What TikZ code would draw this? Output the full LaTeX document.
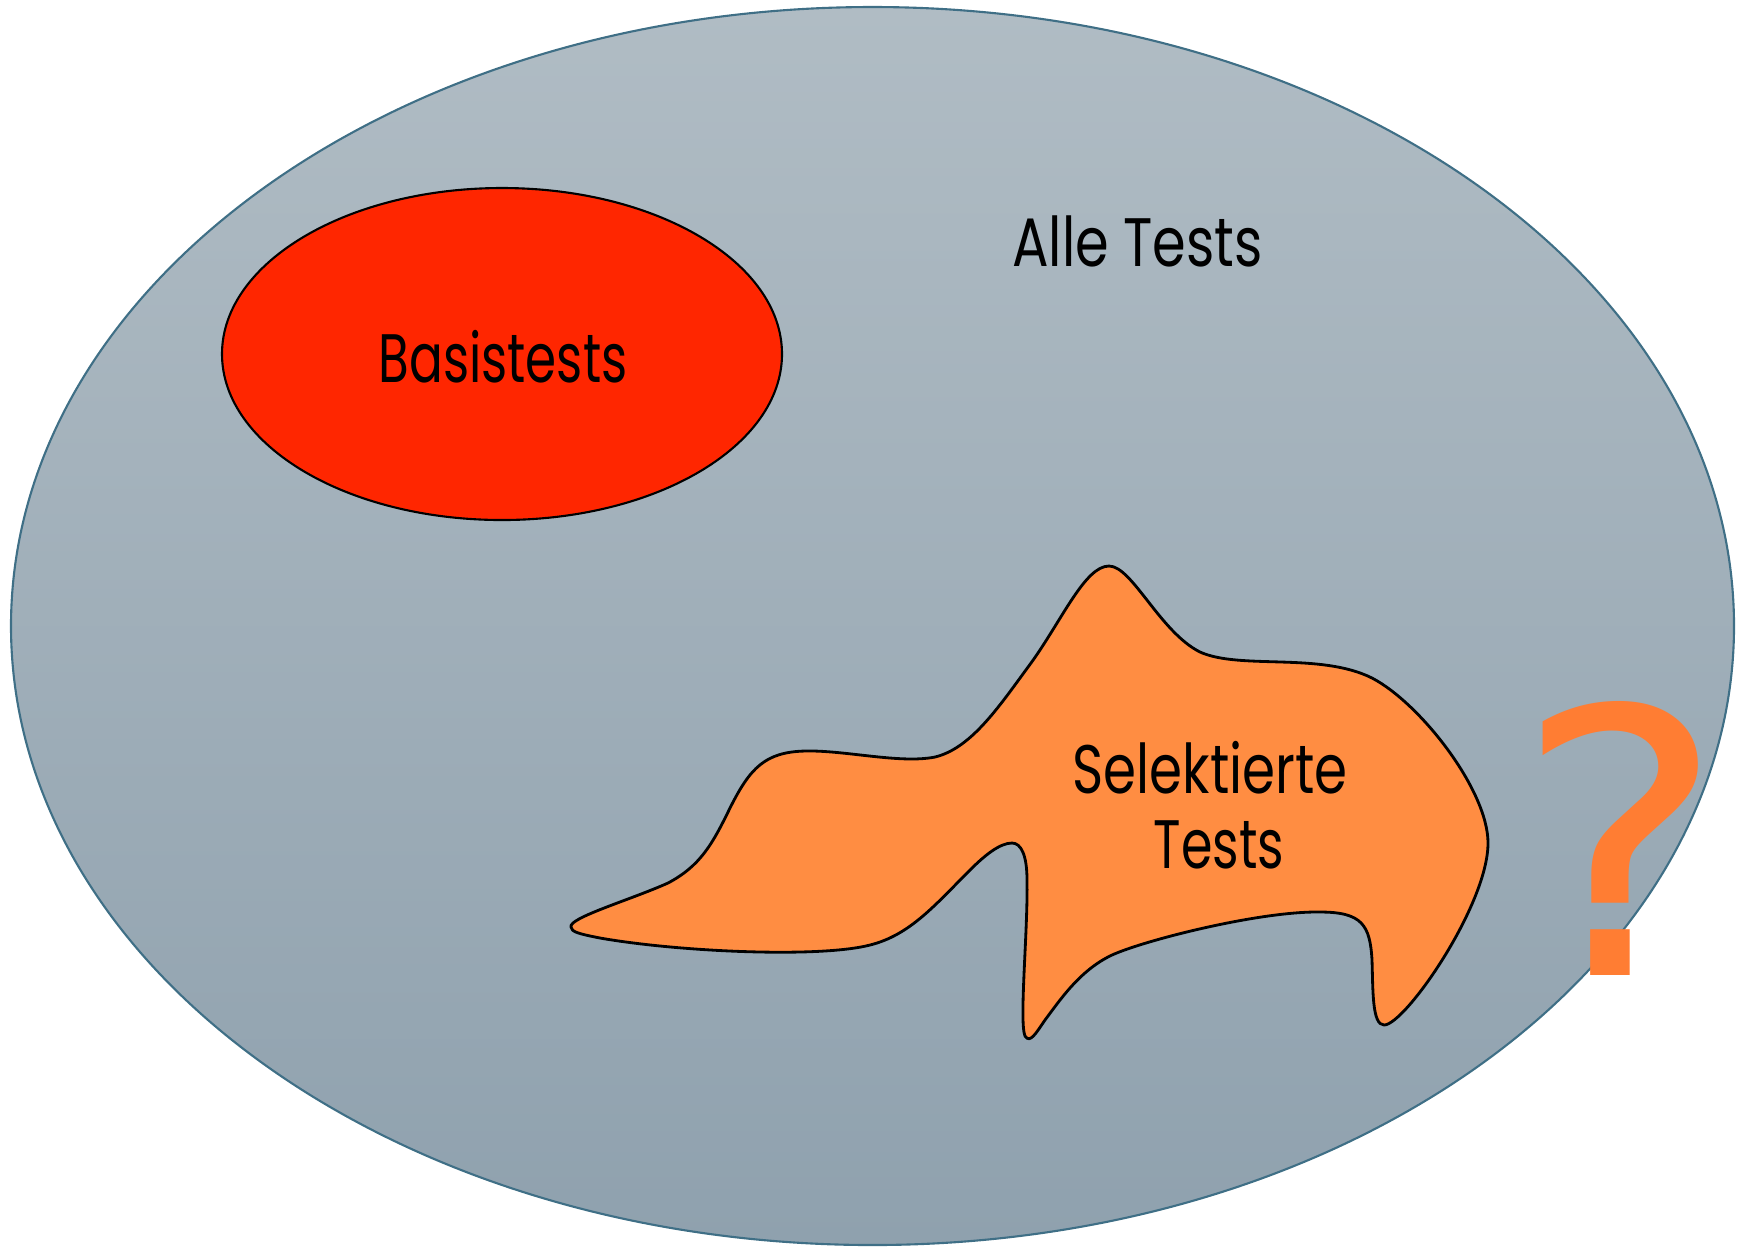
\documentclass[tikz,border=0pt]{standalone}
\usepackage{fontspec}
\setmainfont{Poppins}
\newfontfamily\qfont{DejaVu Sans}
\definecolor{topc}{HTML}{B0BCC4}
\definecolor{botc}{HTML}{8FA1AE}
\definecolor{edgec}{HTML}{3F6F86}
\definecolor{redc}{HTML}{FF2600}
\definecolor{orc}{HTML}{FF8D42}
\definecolor{qc}{HTML}{FF7D33}
\tikzset{
  lbl/.style={font=\fontsize{19.5}{19.5}\selectfont, text=black, inner sep=0pt, anchor=base},
}
\begin{document}
\begin{tikzpicture}[x=0.01cm,y=-0.01cm]
\useasboundingbox (0,0) rectangle (1752,1247);
\shade[top color=topc,bottom color=botc] (872.5,626) ellipse [x radius=861.5, y radius=619];
\draw[edgec, line width=0.6pt] (872.5,626) ellipse [x radius=861.5, y radius=619];
\draw[black, fill=redc, line width=0.6pt] (502,354) ellipse [x radius=280, y radius=166];
\draw[black, fill=orc, line width=0.8pt]
  (571,927) .. controls (568,918) and (630,900) .. (668,883)
  .. controls (700,866) and (712,845) .. (730,808)
  .. controls (750,768) and (765,752) .. (805,751)
  .. controls (845,750) and (900,764) .. (935,757)
  .. controls (972,748) and (1000,705) .. (1031,663)
  .. controls (1062,620) and (1085,566) .. (1109,566)
  .. controls (1132,566) and (1160,632) .. (1200,652)
  .. controls (1240,670) and (1320,652) .. (1372,678)
  .. controls (1420,703) and (1488,790) .. (1488,843)
  .. controls (1488,905) and (1405,1025) .. (1384,1025)
  .. controls (1372,1025) and (1373,990) .. (1372,960)
  .. controls (1370,925) and (1362,912) .. (1320,912)
  .. controls (1260,911) and (1145,940) .. (1112,955)
  .. controls (1080,970) and (1060,1000) .. (1045,1020)
  .. controls (1036,1033) and (1030,1044) .. (1025,1036)
  .. controls (1019,1022) and (1028,930) .. (1027,880)
  .. controls (1027,855) and (1021,843) .. (1012,843)
  .. controls (1000,843) and (985,855) .. (970,870)
  .. controls (935,905) and (910,935) .. (870,945)
  .. controls (820,958) and (680,952) .. (600,938)
  .. controls (580,934) and (571,932) .. cycle;
\node[lbl, xscale=0.79] (alle) at (1137.5,266) {Alle Tests};
\node[lbl, xscale=0.73] (basis) at (503,382) {Basistests};
\node[lbl, xscale=0.775] (sel1) at (1210,793) {Selektierte};
\node[lbl, xscale=0.74] (sel2) at (1219,868) {Tests};
\node[font=\qfont\fontsize{105}{105}\selectfont, text=qc, inner sep=0pt, anchor=base, xscale=1.08] (q) at (1620,975) {?};
\end{tikzpicture}
\end{document}
